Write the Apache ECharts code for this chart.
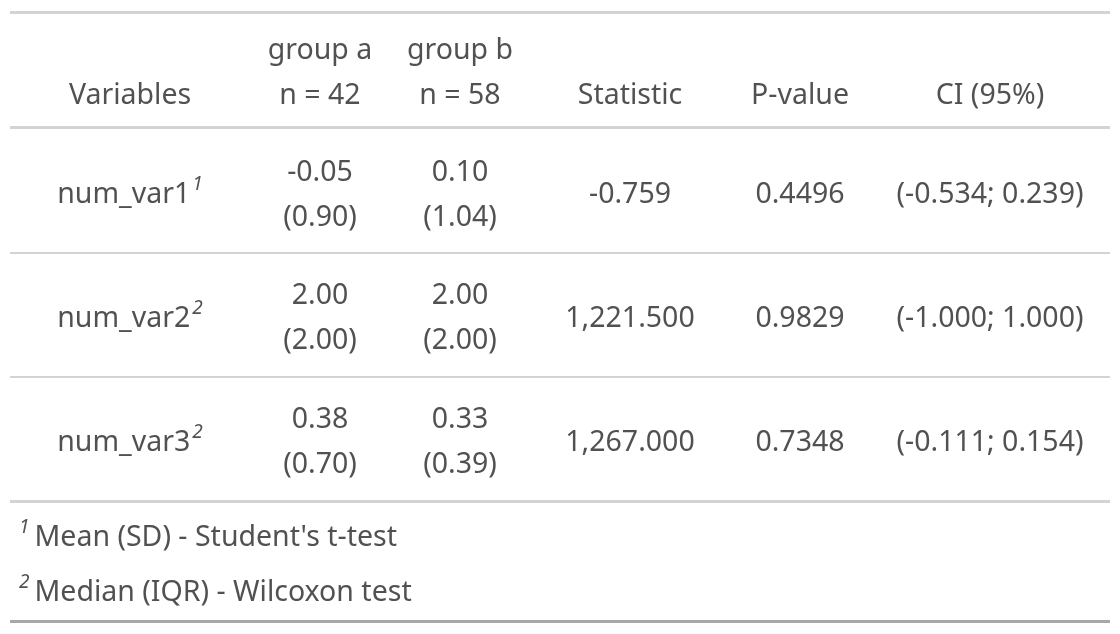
<!DOCTYPE html>
<html>
<head>
<meta charset="utf-8">
<script src="https://cdn.jsdelivr.net/npm/echarts@6/dist/echarts.min.js"></script>
<style>html,body{margin:0;padding:0;background:#fff}#main{width:1120px;height:634px}</style>
</head>
<body>
<div id="main"></div>
<script>
// ---- data ----
const headerLabels = ['Variables', 'group a', 'group b', 'Statistic', 'P-value', 'CI (95%)'];
const groupN = [42, 58];
const variables = ['num_var1', 'num_var2', 'num_var3'];
const footnoteRef = [1, 2, 2];
const groupACenter = [-0.05, 2.00, 0.38];
const groupASpread = [0.90, 2.00, 0.70];
const groupBCenter = [0.10, 2.00, 0.33];
const groupBSpread = [1.04, 2.00, 0.39];
const statistic = [-0.759, 1221.5, 1267.0];
const pValue = [0.4496, 0.9829, 0.7348];
const ciLow = [-0.534, -1.000, -0.111];
const ciHigh = [0.239, 1.000, 0.154];
const footnotes = ["Mean (SD) - Student's t-test", 'Median (IQR) - Wilcoxon test'];

// ---- layout ----
const W = 1120, H = 634;
const colX = [130, 320, 460, 630, 800, 990];
const headerBottomY = 118.5;
const rowY = [195, 318.5, 442.5];
const footY = [538, 593];
const footX = 19;
const ruleL = 10, ruleR = 1110;
const rules = [
  {y: 12, w: 3, c: '#d3d3d3'},
  {y: 127.5, w: 3, c: '#d3d3d3'},
  {y: 253, w: 2, c: '#d3d3d3'},
  {y: 377, w: 2, c: '#d3d3d3'},
  {y: 501.5, w: 3, c: '#d3d3d3'},
  {y: 621.5, w: 3, c: '#a8a8a8'}
];
const FONT = '"Noto Sans", "Open Sans", sans-serif';
const TXT = '#262626';
const FS = 28.5;

const f2 = v => v.toFixed(2);
const f3 = v => v.toLocaleString('en-US', {minimumFractionDigits: 3, maximumFractionDigits: 3});

const rich = {
  b: {fontSize: FS, fontFamily: FONT, color: TXT, lineHeight: 45},
  s: {fontSize: 19, fontFamily: FONT, color: TXT, fontStyle: 'italic', padding: [0, 0, 20, 2], lineHeight: 45},
  fs: {fontSize: 19, fontFamily: FONT, color: TXT, fontStyle: 'italic', padding: [0, 5, 20, 0], lineHeight: 45}
};

// header cells
const headerData = headerLabels.map((h, i) => {
  let t = h;
  if (i === 1 || i === 2) t = h + '\nn = ' + groupN[i - 1];
  return {value: [colX[i], headerBottomY], text: t};
});

// body cells
const bodyData = [];
variables.forEach((v, r) => {
  const y = rowY[r];
  bodyData.push({value: [colX[0], y], text: '{b|' + v + '}{s|' + footnoteRef[r] + '}'});
  bodyData.push({value: [colX[1], y], text: f2(groupACenter[r]) + '\n(' + f2(groupASpread[r]) + ')'});
  bodyData.push({value: [colX[2], y], text: f2(groupBCenter[r]) + '\n(' + f2(groupBSpread[r]) + ')'});
  bodyData.push({value: [colX[3], y], text: f3(statistic[r])});
  bodyData.push({value: [colX[4], y], text: pValue[r].toFixed(4)});
  bodyData.push({value: [colX[5], y], text: '(' + f3(ciLow[r]) + '; ' + f3(ciHigh[r]) + ')'});
});

const footData = footnotes.map((f, i) => ({value: [footX, footY[i]], text: '{fs|' + (i + 1) + '}{b|' + f + '}'}));

const baseLabel = {
  show: true, position: 'inside', formatter: p => p.data.text,
  fontSize: FS, fontFamily: FONT, color: TXT, lineHeight: 45, rich: rich
};

const chart = echarts.init(document.getElementById('main'), null, {renderer: 'canvas'});
chart.setOption({
  backgroundColor: '#ffffff',
  animation: false,
  grid: {left: 0, right: 0, top: 0, bottom: 0},
  xAxis: {type: 'value', min: 0, max: W, show: false},
  yAxis: {type: 'value', min: 0, max: H, inverse: true, show: false},
  series: [
    {
      type: 'scatter', symbolSize: 0, silent: true, data: headerData,
      label: Object.assign({}, baseLabel, {align: 'center', verticalAlign: 'bottom'})
    },
    {
      type: 'scatter', symbolSize: 0, silent: true, data: bodyData,
      label: Object.assign({}, baseLabel, {align: 'center', verticalAlign: 'middle'})
    },
    {
      type: 'scatter', symbolSize: 0, silent: true, data: footData,
      label: Object.assign({}, baseLabel, {align: 'left', verticalAlign: 'middle'})
    },
    {
      type: 'line', data: [], silent: true,
      markLine: {
        silent: true, symbol: 'none', label: {show: false}, animation: false,
        data: rules.map(r => [
          {coord: [ruleL, r.y], lineStyle: {color: r.c, width: r.w, type: 'solid'}},
          {coord: [ruleR, r.y]}
        ])
      }
    }
  ]
});
</script>
</body>
</html>
